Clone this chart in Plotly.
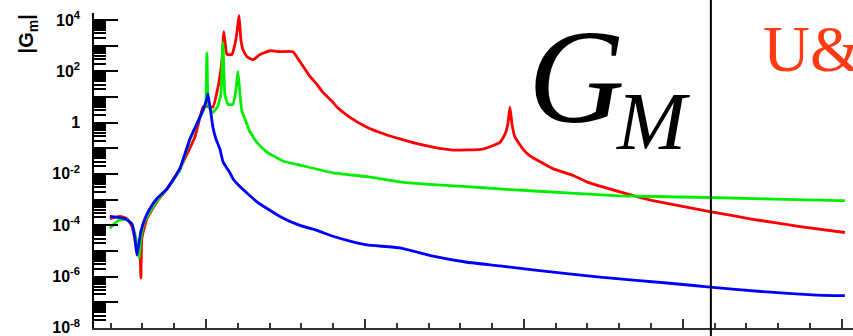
import plotly.graph_objects as go

# ---------------- data ----------------
blue_x = [0.396, 0.491, 0.535, 0.553, 0.566, 0.591, 0.616, 0.648, 0.692, 0.755, 0.836, 0.899,
          0.962, 1.006, 1.013, 1.044, 1.063, 1.088, 1.107, 1.126, 1.151, 1.170, 1.214, 1.277,
          1.327, 1.384, 1.465, 1.591, 1.698, 1.799, 1.906,
          2.013, 2.220, 2.428, 2.642, 2.849, 3.057, 3.478, 3.899, 4.170, 4.528, 4.843, 5.019]
blue_y = [2.2e-4, 1.8e-4, 1.1e-4, 3.1e-5, 6.8e-6, 5.8e-5, 1.8e-4, 4.5e-4, 1.1e-3, 2.6e-3, 1.6e-2, 0.23,
          1.6, 8.1, 13, 0.66, 0.23, 0.093, 0.030, 0.019, 0.011, 6.5e-3, 3.2e-3, 1.4e-3,
          7.6e-4, 4.5e-4, 2.2e-4, 9.8e-5, 6.3e-5, 3.7e-5, 2.4e-5,
          1.7e-5, 1.3e-5, 6.2e-6, 3.6e-6, 2.6e-6, 1.8e-6, 9.5e-7, 5.6e-7, 3.9e-7, 2.5e-7, 1.9e-7, 1.8e-7]

green_x = [0.396, 0.421, 0.447, 0.503, 0.535, 0.560, 0.579, 0.591, 0.616, 0.692, 0.755, 0.836,
           0.899, 0.962, 0.994, 1.000, 1.006, 1.013, 1.025, 1.044, 1.075, 1.094, 1.107, 1.119,
           1.138, 1.170, 1.189, 1.201, 1.214, 1.226, 1.252, 1.277, 1.327, 1.384, 1.484, 1.591,
           1.799, 2.013, 2.220, 2.428, 2.642, 2.849, 3.038, 3.604, 4.170, 4.987, 5.019]
green_y = [7.6e-5, 1.1e-4, 1.5e-4, 1.7e-4, 1.1e-4, 3.1e-5, 5.2e-6, 3.1e-5, 1.5e-4, 9.1e-4, 2.6e-3, 1.4e-2,
           0.21, 1.6, 4.0, 8.1, 520, 8.1, 3.3, 2.5, 4.4, 13, 1300, 13,
           5.1, 5.1, 19, 98, 13, 2.8, 1.1, 0.43, 0.15, 0.071, 0.032, 0.022,
           0.011, 7.8e-3, 4.9e-3, 3.8e-3, 3.2e-3, 2.6e-3, 2.2e-3, 1.4e-3, 1.2e-3, 9.1e-4, 9.1e-4]

red_x = [0.396, 0.459, 0.503, 0.535, 0.566, 0.585, 0.591, 0.597, 0.629, 0.692, 0.755, 0.836,
         0.931, 0.981, 0.994, 1.044, 1.069, 1.088, 1.101, 1.113, 1.126, 1.132, 1.164, 1.182,
         1.195, 1.208, 1.220, 1.233, 1.258, 1.296, 1.340, 1.403, 1.465, 1.547, 1.591, 1.654,
         1.698, 1.736, 1.799, 1.824, 1.906, 2.013, 2.126, 2.220, 2.327, 2.428, 2.553, 2.742,
         2.849, 2.881, 2.899, 2.912, 2.925, 2.943, 2.994, 3.038, 3.101, 3.182, 3.314, 3.396,
         3.604, 3.811, 4.170, 4.440, 4.736, 5.019]
red_y = [1.8e-4, 2.2e-4, 1.8e-4, 8.9e-5, 1.3e-5, 6.8e-6, 8.7e-7, 3.1e-5, 1.8e-4, 8.3e-4, 2.6e-3, 1.6e-2,
         0.28, 4.0, 4.4, 4.0, 15, 63, 280, 3500, 690, 450, 450, 1100,
         3200, 15000, 1700, 690, 370, 280, 450, 630, 580, 580, 240, 63,
         31, 15, 6.2, 4.0, 1.6, 0.66, 0.35, 0.23, 0.15, 0.11, 0.085, 0.093,
         0.17, 0.35, 0.87, 4.0, 0.87, 0.28, 0.093, 0.050, 0.030, 0.016, 8.5e-3, 4.9e-3,
         2.0e-3, 9.1e-4, 3.4e-4, 1.7e-4, 8.9e-5, 5.2e-5]

y_tick_exponents = [-8, -7, -6, -5, -4, -3, -2, -1, 0, 1, 2, 3, 4]
y_tick_labels = ["10<sup>-8</sup>", "", "10<sup>-6</sup>", "", "10<sup>-4</sup>", "", "10<sup>-2</sup>", "",
                 "1", "", "10<sup>2</sup>", "", "10<sup>4</sup>"]

marker_x = 4.176  # vertical divider line position

# ---------------- figure ----------------
fig = go.Figure()
for xs, ys, col in [(red_x, red_y, "#ff0000"), (green_x, green_y, "#00ee00"), (blue_x, blue_y, "#0000ff")]:
    fig.add_trace(go.Scatter(x=xs, y=ys, mode="lines", line=dict(color=col, width=2.8, shape="spline", smoothing=0.4),
                             showlegend=False, hoverinfo="skip"))

fig.update_layout(
    width=853, height=336,
    margin=dict(l=94, r=0, t=13, b=6),
    paper_bgcolor="white", plot_bgcolor="white",
    font=dict(family="Liberation Sans", color="black"),
)

fig.update_xaxes(
    range=[0.296, 5.07], showgrid=False, zeroline=False,
    showline=True, linecolor="#333333", linewidth=1.5,
    ticks="inside", ticklen=9, tickwidth=1.5, tickcolor="#333333",
    tick0=0, dtick=1, showticklabels=False,
    minor=dict(ticks="inside", ticklen=5, tickwidth=1.5, tickcolor="#333333", tick0=0, dtick=0.2, showgrid=False),
)

fig.update_yaxes(
    type="log", range=[-8.006, 4.27], showgrid=False, zeroline=False,
    showline=True, linecolor="black", linewidth=1.5,
    tickmode="array", tickvals=[10.0 ** e for e in y_tick_exponents],
    ticktext=["<b>%s</b>" % t if t else "" for t in y_tick_labels],
    ticks="inside", ticklen=24, tickwidth=1.5, tickcolor="black",
    ticklabelstandoff=9, ticklabeloverflow="allow",
    tickfont=dict(family="Liberation Sans", size=16, color="black"),
    minor=dict(ticks="inside", ticklen=12, tickwidth=1.5, tickcolor="black", dtick="D1", showgrid=False),
)

fig.add_shape(type="line", xref="x", yref="paper", x0=marker_x, x1=marker_x, y0=-0.05, y1=1.06,
              line=dict(color="black", width=2))

fig.add_annotation(xref="paper", yref="paper", x=-0.087, y=0.935, text="<b>|G<sub>m</sub>|</b>",
                   textangle=-90, showarrow=False, xanchor="center", yanchor="middle",
                   font=dict(family="Liberation Sans", size=20, color="black"))

fig.add_annotation(xref="paper", yref="paper", x=0.636, y=0.798, text="<i>G</i>",
                   showarrow=False, xanchor="center", yanchor="middle",
                   font=dict(family="Liberation Serif", size=134, color="black"))
fig.add_annotation(xref="paper", yref="paper", x=0.736, y=0.656, text="<i>M</i>",
                   showarrow=False, xanchor="center", yanchor="middle",
                   font=dict(family="Liberation Serif", size=83, color="black"))
fig.add_annotation(xref="paper", yref="paper", x=0.946, y=0.885, text="U&amp;",
                   showarrow=False, xanchor="center", yanchor="middle",
                   font=dict(family="Liberation Serif", size=65, color="#ff3a14"))

fig.write_html("out.html")
